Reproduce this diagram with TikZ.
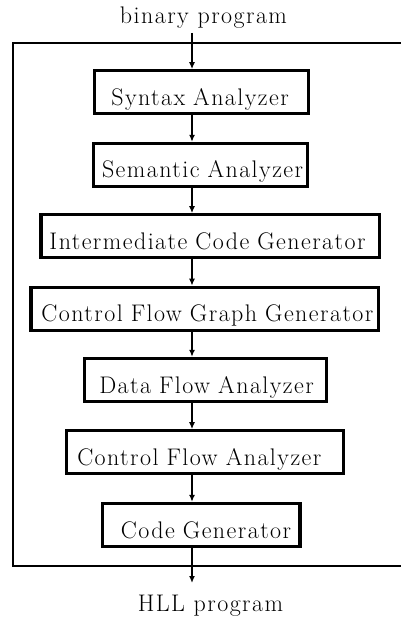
\documentclass[tikz,border=0pt]{standalone}
\usepackage{fontspec}
\setmainfont{Latin Modern Roman}[LetterSpace=6]
\usetikzlibrary{arrows.meta}
\begin{document}
\begin{tikzpicture}[x=1pt,y=-1pt,
  every node/.style={font=\fontsize{24}{28}\selectfont},
  stage/.style={draw,line width=3.3pt,inner xsep=0pt,inner ysep=0pt,align=left,
    minimum height=43pt,text height=26pt,text depth=0pt},
  arr/.style={line width=1.8pt,-{Latex[length=7pt,width=6pt]}},
  frame/.style={line width=2pt}]
\useasboundingbox (0,0) rectangle (400,617);
\coordinate (axis) at (192,0);
% labels
\node[anchor=base,inner sep=0pt] (bin) at (203.5,24) {binary program};
\node[anchor=base,inner sep=0pt] (hll) at (210.5,611) {HLL program};
% frame
\draw[frame] (401,42.7) -- (13,42.7) -- (13,565.7) -- (401,565.7);
% stages
\node[stage,text width=214pt] (syn) at (201.3,92.3) {\hspace*{17pt}Syntax Analyzer};
\node[stage,text width=214pt] (sem) at (200.5,165) {\hspace*{8.5pt}Semantic Analyzer};
\node[stage,text width=338.5pt] (icg) at (210.2,236.3) {\hspace*{8.5pt}Intermediate Code Generator};
\node[stage,text width=347.5pt] (cfg) at (204.7,308.8) {\hspace*{10.5pt}Control Flow Graph Generator};
\node[stage,text width=242.5pt] (dfa) at (205.5,380) {\hspace*{15pt}Data Flow Analyzer};
\node[stage,text width=276.5pt] (cfa) at (205,452.3) {\hspace*{10.5pt}Control Flow Analyzer};
\node[stage,text width=197.5pt] (cg) at (201.2,525) {\hspace*{18.5pt}Code Generator};
% connectors
\coordinate (tin) at (192,33);
\coordinate (tout) at (192,583);
\draw[arr] (tin) -- (syn.north -| axis);
\draw[arr] (syn.south -| axis) -- (sem.north -| axis);
\draw[arr] (sem.south -| axis) -- (icg.north -| axis);
\draw[arr] (icg.south -| axis) -- (cfg.north -| axis);
\draw[arr] (cfg.south -| axis) -- (dfa.north -| axis);
\draw[arr] (dfa.south -| axis) -- (cfa.north -| axis);
\draw[arr] (cfa.south -| axis) -- (cg.north -| axis);
\draw[arr] (cg.south -| axis) -- (tout);
\end{tikzpicture}
\end{document}
